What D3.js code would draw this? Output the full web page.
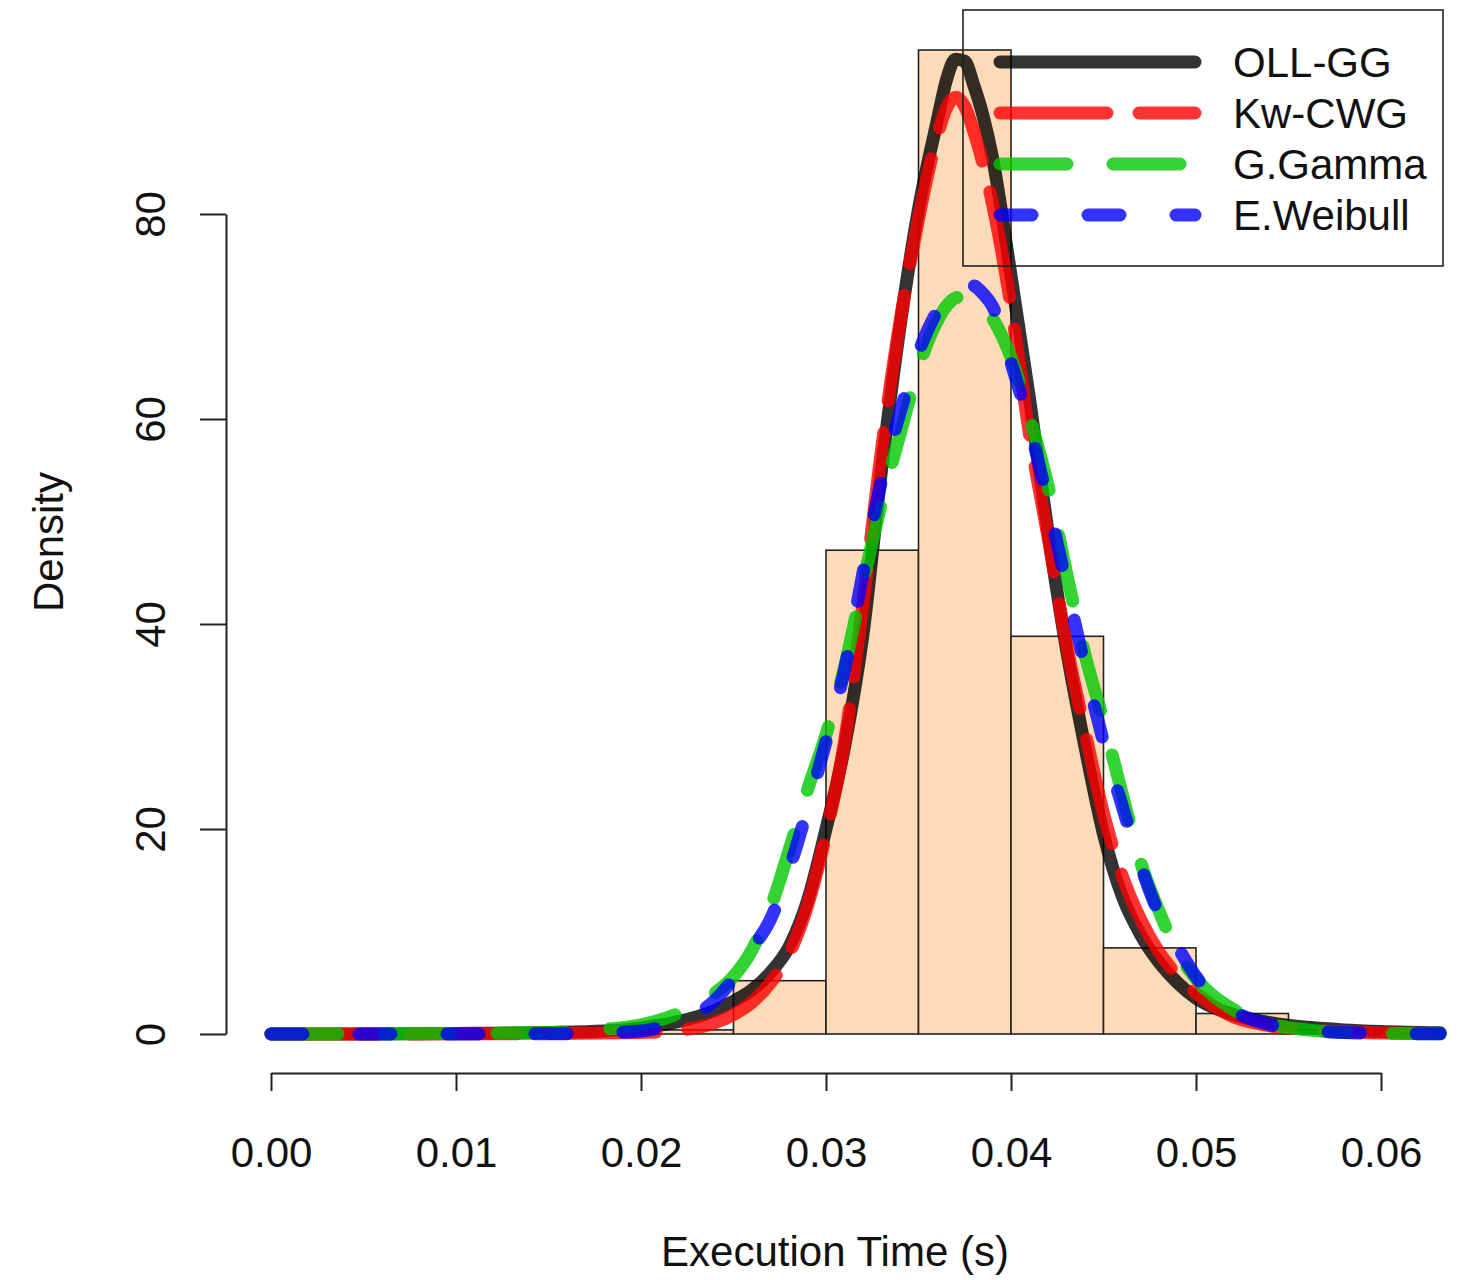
<!DOCTYPE html>
<html>
<head>
<meta charset="utf-8">
<script src="https://cdnjs.cloudflare.com/ajax/libs/d3/7.8.5/d3.min.js"></script>
<style>
  html, body { margin: 0; padding: 0; background: #fff; }
  svg { display: block; }
</style>
</head>
<body>
<svg id="chart" width="1459" height="1280"></svg>
<script>
// ---------- data ----------
const xTicks = [0, 0.01, 0.02, 0.03, 0.04, 0.05, 0.06];
const xTickLabels = ["0.00", "0.01", "0.02", "0.03", "0.04", "0.05", "0.06"];
const yTicks = [0, 20, 40, 60, 80];
const yTickLabels = ["0", "20", "40", "60", "80"];

const binStarts = [0.020, 0.025, 0.030, 0.035, 0.040, 0.045, 0.050, 0.055];
const binWidth = 0.005;
const binHeights = [0.4, 5.2, 47.2, 96.0, 38.8, 8.4, 2.0, 0.4];

const xGrid = [0, 0.005, 0.01, 0.015, 0.018, 0.02, 0.022, 0.024, 0.025, 0.026, 0.027, 0.028, 0.029, 0.03, 0.031, 0.032, 0.033, 0.034, 0.035, 0.036, 0.0365, 0.037, 0.0375, 0.038, 0.0385, 0.039, 0.04, 0.041, 0.042, 0.043, 0.044, 0.045, 0.046, 0.047, 0.048, 0.049, 0.05, 0.052, 0.054, 0.056, 0.058, 0.06, 0.0632];
const ollgg    = [0, 0.01, 0.05, 0.15, 0.3, 0.6, 1.2, 2.3, 3.2, 4.3, 6.0, 8.5, 13.0, 20.0, 28.0, 39.0, 55.0, 69.0, 80.5, 89.0, 93.0, 95.1, 94.9, 92.5, 89.5, 85.5, 74.0, 62.0, 49.0, 37.5, 28.0, 19.5, 13.5, 9.7, 7.0, 5.0, 3.5, 1.9, 1.1, 0.65, 0.4, 0.25, 0.12];
const kwcwg    = [0, 0.0, 0.02, 0.05, 0.1, 0.15, 0.35, 1.1, 1.9, 3.1, 5.0, 7.8, 12.5, 19.5, 28.5, 42.0, 57.0, 69.5, 79.5, 87.5, 90.3, 91.4, 90.5, 88.0, 84.8, 81.0, 71.0, 58.5, 48.5, 38.0, 29.5, 21.5, 15.5, 11.2, 8.0, 5.7, 4.0, 1.7, 0.8, 0.4, 0.2, 0.1, 0.05];
const ggamma   = [0, 0.01, 0.05, 0.15, 0.45, 0.9, 2.0, 4.0, 5.6, 8.2, 12.3, 17.9, 23.8, 29.2, 35.8, 44.0, 51.8, 58.5, 65.0, 69.5, 71.0, 71.8, 72.0, 71.6, 70.9, 69.8, 66.0, 60.2, 53.5, 45.0, 37.0, 30.5, 23.5, 16.8, 12.0, 8.0, 5.4, 2.4, 1.0, 0.4, 0.15, 0.05, 0.02];
const eweibull = [0, 0.0, 0.01, 0.02, 0.1, 0.3, 1.2, 3.3, 5.4, 8.3, 11.2, 16.0, 22.0, 28.5, 35.5, 45.0, 54.0, 60.6, 66.5, 70.5, 71.9, 72.8, 73.2, 73.0, 72.2, 71.0, 65.5, 59.3, 51.8, 43.8, 35.8, 28.5, 22.3, 16.5, 11.7, 8.5, 5.6, 2.3, 0.9, 0.35, 0.15, 0.05, 0.02];

const seriesNames = ["OLL-GG", "Kw-CWG", "G.Gamma", "E.Weibull"];
const seriesValues = [ollgg, kwcwg, ggamma, eweibull];
const seriesColors = ["rgba(0,0,0,0.8)", "rgba(255,0,0,0.8)", "rgba(0,200,0,0.8)", "rgba(0,0,255,0.8)"];
const seriesDash = [null, "107 32", "67 46", "32 56"];

const xTitle = "Execution Time (s)";
const yTitle = "Density";

// ---------- layout ----------
const FONT = "'Liberation Sans', Arial, Helvetica, sans-serif";
const FS = 42;
const svg = d3.select("#chart");

const x = d3.scaleLinear().domain([0, 0.06]).range([271, 1381]);
const y = d3.scaleLinear().domain([0, 80]).range([1034, 214]);

// histogram bars
svg.append("g").selectAll("rect")
  .data(binStarts.map((s, i) => ({s, h: binHeights[i]})))
  .join("rect")
  .attr("x", d => x(d.s))
  .attr("width", d => x(d.s + binWidth) - x(d.s))
  .attr("y", d => y(d.h))
  .attr("height", d => y(0) - y(d.h))
  .attr("fill", "#FDDAB8")
  .attr("stroke", "#222")
  .attr("stroke-width", 1.6);

// axes
const xAxis = d3.axisBottom(x).tickValues(xTicks).tickFormat((d, i) => xTickLabels[i])
  .tickSize(18).tickSizeOuter(0);
const gx = svg.append("g").attr("transform", "translate(0,1073)").call(xAxis);
gx.selectAll("path, line").attr("stroke", "#222").attr("stroke-width", 2);
gx.selectAll("text").attr("y", 94).attr("dy", 0)
  .attr("font-family", FONT).attr("font-size", FS).attr("fill", "#111");
gx.attr("font-family", null).attr("font-size", null);

const yAxis = d3.axisLeft(y).tickValues(yTicks).tickFormat((d, i) => yTickLabels[i])
  .tickSize(26).tickSizeOuter(0);
const gy = svg.append("g").attr("transform", "translate(226,0)").call(yAxis);
gy.selectAll("path, line").attr("stroke", "#222").attr("stroke-width", 2);
gy.selectAll("text").attr("transform", "rotate(-90)").attr("x", 0).attr("y", -61).attr("dy", 0)
  .attr("text-anchor", "middle")
  .attr("font-family", FONT).attr("font-size", FS).attr("fill", "#111");
gy.attr("font-family", null).attr("font-size", null);

// axis titles
svg.append("text").attr("x", 835).attr("y", 1266).attr("text-anchor", "middle")
  .attr("font-family", FONT).attr("font-size", FS).attr("fill", "#111").text(xTitle);
svg.append("text").attr("transform", "translate(63,542) rotate(-90)").attr("text-anchor", "middle")
  .attr("font-family", FONT).attr("font-size", FS).attr("fill", "#111").text(yTitle);

// density curves
const line = d3.line().x(d => x(d[0])).y(d => y(d[1])).curve(d3.curveMonotoneX);
seriesValues.forEach((vals, i) => {
  const pts = xGrid.map((xv, j) => [xv, vals[j]]);
  const p = svg.append("path").datum(pts)
    .attr("d", line)
    .attr("fill", "none")
    .attr("stroke", seriesColors[i])
    .attr("stroke-width", 13)
    .attr("stroke-linecap", "round")
    .attr("stroke-linejoin", "round");
  if (seriesDash[i]) p.attr("stroke-dasharray", seriesDash[i]);
});

// legend
const lg = svg.append("g");
lg.append("rect").attr("x", 963).attr("y", 10).attr("width", 480).attr("height", 256)
  .attr("fill", "none").attr("stroke", "#222").attr("stroke-width", 1.6);
seriesNames.forEach((name, i) => {
  const ly = 62 + i * 51;
  const l = lg.append("line").attr("x1", 1000).attr("x2", 1195).attr("y1", ly).attr("y2", ly)
    .attr("stroke", seriesColors[i]).attr("stroke-width", 13).attr("stroke-linecap", "round");
  if (seriesDash[i]) l.attr("stroke-dasharray", seriesDash[i]);
  lg.append("text").attr("x", 1233).attr("y", ly + 15)
    .attr("font-family", FONT).attr("font-size", FS).attr("fill", "#111").text(name);
});
</script>
</body>
</html>
